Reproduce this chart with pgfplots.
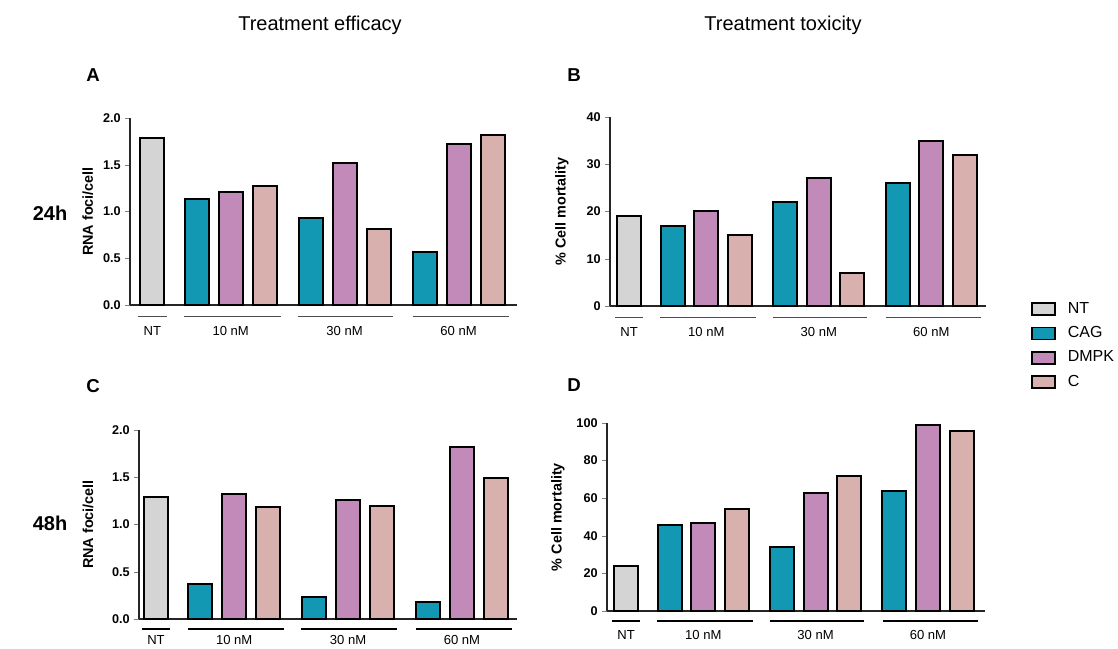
\documentclass[border=0pt]{standalone}
\usepackage{pgfplots}
\pgfplotsset{compat=1.18}
\usepackage{fontspec}
\setmainfont{Liberation Sans}

\definecolor{ntgrey}{RGB}{212,212,212}
\definecolor{cagteal}{RGB}{18,152,178}
\definecolor{dmpkmauve}{RGB}{194,138,184}
\definecolor{cpink}{RGB}{216,176,174}

\pgfplotsset{
  panel/.style={
    scale only axis, ybar, bar width=18pt,
    enlargelimits=false, clip=false,
    axis lines*=left,
    axis line style={line width=1pt, black!85},
    ymin=0,
    tick align=outside, major tick length=3.5pt,
    ytick pos=left, xtick style={draw=none},
    xtick={0,2.3,5.65,9},
    xticklabels={NT,10 nM,30 nM,60 nM},
    xticklabel style={anchor=center, yshift=-16pt, font=\fontsize{9.8}{11}\selectfont},
    /pgf/number format/assume math mode=true,
    yticklabel style={font=\bfseries\fontsize{9.5}{11}\selectfont},
    ylabel style={font=\bfseries\fontsize{10.8}{12}\selectfont, anchor=center},
  },
  onedec/.style={yticklabel style={/pgf/number format/.cd, fixed, fixed zerofill, precision=1}},
  series/.style={fill=#1, draw=black, line width=1.5pt, bar shift=0pt,
    legend image code/.code={\draw[fill=#1, draw=black, line width=1.3pt] (0pt,-4.5pt) rectangle (17pt,4.5pt);}},
}

% horizontal rules under each treatment group: #1 colour, #2 drop below the axis
\newcommand{\grouprules}[2]{%
  \draw[#1, line width=0.8pt] ([yshift=-#2]axis cs:-0.42,0) -- ([yshift=-#2]axis cs:0.42,0);
  \draw[#1, line width=0.8pt] ([yshift=-#2]axis cs:0.93,0) -- ([yshift=-#2]axis cs:3.78,0);
  \draw[#1, line width=0.8pt] ([yshift=-#2]axis cs:4.28,0) -- ([yshift=-#2]axis cs:7.08,0);
  \draw[#1, line width=0.8pt] ([yshift=-#2]axis cs:7.66,0) -- ([yshift=-#2]axis cs:10.48,0);
}

\begin{document}
\begin{tikzpicture}
\useasboundingbox (0,0) rectangle (838.5pt,486.75pt);

% column and row headings
\node[font=\fontsize{15}{18}\selectfont] at (240pt,468pt) {Treatment efficacy};
\node[font=\fontsize{15}{18}\selectfont] at (587.25pt,468pt) {Treatment toxicity};
\node[font=\bfseries\fontsize{14}{16}\selectfont] at (69.75pt,430.5pt) {A};
\node[font=\bfseries\fontsize{14}{16}\selectfont] at (430.5pt,430.5pt) {B};
\node[font=\bfseries\fontsize{14}{16}\selectfont] at (69.75pt,197.25pt) {C};
\node[font=\bfseries\fontsize{14}{16}\selectfont] at (430.5pt,198pt) {D};
\node[font=\bfseries\fontsize{15}{18}\selectfont] at (37.5pt,327pt) {24h};
\node[font=\bfseries\fontsize{15}{18}\selectfont] at (37.5pt,94.5pt) {48h};

% A: RNA foci, 24h
\begin{axis}[panel, onedec,
  at={(97.5pt,258pt)}, anchor=south west,
  width=290.25pt, height=140.25pt,
  xmin=-0.66, xmax=10.72, ymax=2, ytick={0,0.5,1,1.5,2},
  ylabel={RNA foci/cell},
  ylabel style={at={(axis description cs:-0.109,0.5)}}]
\addplot[series=ntgrey] coordinates {(0,1.79)};
\addplot[series=cagteal] coordinates {(1.3,1.13) (4.65,0.93) (8,0.57)};
\addplot[series=dmpkmauve] coordinates {(2.3,1.21) (5.65,1.52) (9,1.72)};
\addplot[series=cpink] coordinates {(3.3,1.27) (6.65,0.81) (10,1.82)};
\grouprules{black!70}{8.7pt}
\end{axis}

% B: cell mortality, 24h
\begin{axis}[panel,
  at={(457.5pt,257.25pt)}, anchor=south west,
  width=282pt, height=141.75pt,
  xmin=-0.57, xmax=10.63, ymax=40, ytick={0,10,20,30,40},
  ylabel={\% Cell mortality},
  ylabel style={at={(axis description cs:-0.128,0.5)}},
  legend style={at={(axis description cs:1.12,-0.21)}, anchor=west,
    draw=none, fill=none, inner sep=0pt,
    font=\fontsize{12}{14}\selectfont,
    nodes={text height=9pt, text depth=3pt},
    row sep=2.2pt, legend cell align=left,
    /tikz/every odd column/.append style={column sep=7pt}}]
\addplot[series=ntgrey] coordinates {(0,19)};
\addlegendentry{NT}
\addplot[series=cagteal] coordinates {(1.3,17) (4.65,22) (8,26)};
\addlegendentry{CAG}
\addplot[series=dmpkmauve] coordinates {(2.3,20) (5.65,27) (9,35)};
\addlegendentry{DMPK}
\addplot[series=cpink] coordinates {(3.3,15) (6.65,7) (10,32)};
\addlegendentry{C}
\grouprules{black!70}{8.7pt}
\end{axis}

% C: RNA foci, 48h
\begin{axis}[panel, onedec,
  at={(104.25pt,22.5pt)}, anchor=south west,
  width=283.5pt, height=141.75pt,
  xmin=-0.5, xmax=10.62, ymax=2, ytick={0,0.5,1,1.5,2},
  xticklabel style={yshift=4pt},
  ylabel={RNA foci/cell},
  ylabel style={at={(axis description cs:-0.135,0.5)}}]
\addplot[series=ntgrey] coordinates {(0,1.29)};
\addplot[series=cagteal] coordinates {(1.3,0.37) (4.65,0.23) (8,0.18)};
\addplot[series=dmpkmauve] coordinates {(2.3,1.32) (5.65,1.26) (9,1.82)};
\addplot[series=cpink] coordinates {(3.3,1.19) (6.65,1.20) (10,1.49)};
\grouprules{black}{7.5pt}
\end{axis}

% D: cell mortality, 48h
\begin{axis}[panel,
  at={(455.25pt,28.5pt)}, anchor=south west,
  width=283.5pt, height=141pt,
  xmin=-0.57, xmax=10.7, ymax=100, ytick={0,20,40,60,80,100},
  xticklabel style={yshift=1.2pt},
  ylabel={\% Cell mortality},
  ylabel style={at={(axis description cs:-0.13,0.5)}}]
\addplot[series=ntgrey] coordinates {(0,24)};
\addplot[series=cagteal] coordinates {(1.3,46) (4.65,34) (8,64)};
\addplot[series=dmpkmauve] coordinates {(2.3,47) (5.65,63) (9,99)};
\addplot[series=cpink] coordinates {(3.3,54) (6.65,72) (10,96)};
\grouprules{black}{7.5pt}
\end{axis}
\end{tikzpicture}
\end{document}
